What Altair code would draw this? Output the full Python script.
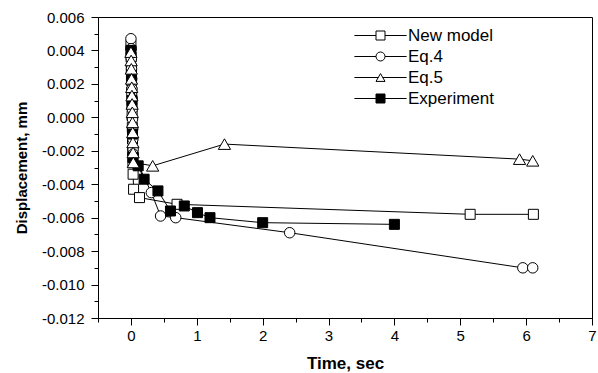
import altair as alt
import pandas as pd

FONT = "Liberation Sans"

series = ["New model", "Eq.4", "Eq.5", "Experiment"]
draw_order = ["New model", "Eq.4", "Experiment", "Eq.5"]

t_new = [0.000, 0.003, 0.006, 0.009, 0.012, 0.015, 0.018, 0.021, 0.024, 0.027, 0.030, 0.033, 0.04, 0.13, 0.70, 5.15, 6.11]
v_new = [0.0043, 0.0036, 0.0029, 0.0022, 0.0015, 0.0008, 0.0001, -0.0006, -0.0013, -0.0020, -0.0027, -0.0034,
         -0.0043, -0.0048, -0.0052, -0.0058, -0.0058]

t_eq4 = [0.000, 0.003, 0.006, 0.009, 0.012, 0.015, 0.018, 0.021, 0.024, 0.027, 0.030, 0.033, 0.036,
         0.31, 0.45, 0.68, 2.41, 5.95, 6.10]
v_eq4 = [0.0047, 0.0041, 0.0035, 0.0029, 0.0023, 0.0017, 0.0011, 0.0005, -0.0001, -0.0007, -0.0013, -0.0019,
         -0.0022, -0.0045, -0.0059, -0.0060, -0.0069, -0.0090, -0.0090]

t_eq5 = [0.000, 0.003, 0.006, 0.009, 0.012, 0.015, 0.018, 0.021, 0.024, 0.027, 0.030, 0.033, 0.036,
         0.33, 1.42, 5.90, 6.10]
v_eq5 = [0.0039, 0.0034, 0.0029, 0.0023, 0.0018, 0.0013, 0.0008, 0.0003, -0.0003, -0.0009, -0.0015, -0.0021,
         -0.0027, -0.0029, -0.0016, -0.0025, -0.0026]

t_exp = [0.000, 0.008, 0.016, 0.024, 0.030, 0.11, 0.20, 0.41, 0.60, 0.81, 1.01, 1.20, 2.00, 4.00]
v_exp = [0.0040, 0.0025, 0.0010, -0.0010, -0.0024, -0.0029, -0.0037, -0.0044, -0.0056,
         -0.0053, -0.0057, -0.0060, -0.0063, -0.0064]

x_ticks = [-0.5, 0, 0.5, 1, 1.5, 2, 2.5, 3, 3.5, 4, 4.5, 5, 5.5, 6, 6.5, 7]
y_ticks = [-0.012, -0.011, -0.010, -0.009, -0.008, -0.007, -0.006, -0.005, -0.004, -0.003, -0.002, -0.001,
           0.000, 0.001, 0.002, 0.003, 0.004, 0.005, 0.006]

data_by_series = {
    "New model": (t_new, v_new),
    "Eq.4": (t_eq4, v_eq4),
    "Eq.5": (t_eq5, v_eq5),
    "Experiment": (t_exp, v_exp),
}
rows = []
for name in draw_order:
    ts, vs = data_by_series[name]
    for t, v in zip(ts, vs):
        rows.append({"series": name, "t": t, "v": v})
df = pd.DataFrame(rows)

x_enc = alt.X(
    "t:Q",
    scale=alt.Scale(domain=[-0.5, 7], nice=False, zero=False),
    axis=alt.Axis(
        title="Time, sec", values=x_ticks,
        labelExpr="datum.value % 1 == 0 ? format(datum.value, 'd') : ''",
        tickSize={"condition": {"test": "datum.value % 1 == 0", "value": 7}, "value": 4},
        labelFontSize=15, titleFontSize=17, titleFontWeight="bold",
        labelPadding=3, titlePadding=12, labelFlush=False, labelOverlap=False,
    ),
)
y_enc = alt.Y(
    "v:Q",
    scale=alt.Scale(domain=[-0.012, 0.006], nice=False, zero=False),
    axis=alt.Axis(
        title="Displacement, mm", values=y_ticks,
        labelExpr="abs(round(datum.value*1000)) % 2 == 0 ? replace(format(datum.value, '.3f'), '\u2212', '-') : ''",
        tickSize={"condition": {"test": "abs(round(datum.value*1000)) % 2 == 0", "value": 7}, "value": 4},
        labelFontSize=15, titleFontSize=15, titleFontWeight="bold",
        labelPadding=7, titlePadding=12, labelFlush=False, labelOverlap=False,
    ),
)

lines = alt.Chart(df).mark_line(color="black", strokeWidth=1).encode(
    x=x_enc, y=y_enc, detail="series:N", order="t:Q"
)

points = alt.Chart(df).mark_point(stroke="black", strokeWidth=1, opacity=1).encode(
    x=x_enc, y=y_enc,
    shape=alt.Shape("series:N", scale=alt.Scale(domain=series, range=["square", "circle", "triangle-up", "square"]),
                    legend=None),
    size={"condition": [{"test": "datum.series == 'Eq.4'", "value": 110},
                        {"test": "datum.series == 'Eq.5'", "value": 150}], "value": 100},
    fill=alt.condition("datum.series == 'Experiment'", alt.value("black"), alt.value("white")),
)

sq = "M-5.8,0H-1M1,0H5.8M-1,-1H1V1H-1Z"
ci = "M-5.8,0H-1M1,0H5.8M1,0A1,1,0,1,1,-1,0A1,1,0,1,1,1,0Z"
tr = "M-5.8,0H-0.5M0.5,0H5.8M0,-0.87L-1,0.87L1,0.87Z"

leg = alt.Legend(
    title=None, orient="none", legendX=274, legendY=10, symbolSize=81, symbolStrokeWidth=1,
    symbolOpacity=1, labelFont=FONT, labelFontSize=17, labelColor="black",
    labelOffset=19, rowPadding=3, padding=0, symbolOffset=0,
)

legend_layer = alt.Chart(df).mark_point(strokeWidth=1, opacity=0).encode(
    x=x_enc, y=y_enc,
    shape=alt.Shape("series:N", scale=alt.Scale(domain=series, range=[sq, ci, tr, sq]), legend=leg),
    fill=alt.Fill("series:N", scale=alt.Scale(domain=series, range=["white", "white", "white", "black"]), legend=leg),
    stroke=alt.Stroke("series:N", scale=alt.Scale(domain=series, range=["black", "black", "black", "black"]), legend=leg),
)

chart = alt.layer(lines, points, legend_layer).resolve_scale(
    shape="independent", fill="independent", stroke="independent"
).properties(
    width=494, height=301,
    autosize=alt.AutoSizeParams(type="none"),
    padding={"left": 98, "top": 17, "right": 6, "bottom": 55},
).configure_view(stroke="black", strokeWidth=1).configure_axis(
    domainColor="black", tickColor="black", labelColor="black", titleColor="black", grid=False,
    labelFont=FONT, titleFont=FONT, domainWidth=1, tickWidth=1,
)

chart.save("out.html", embed_options={"renderer": "svg", "actions": False})
